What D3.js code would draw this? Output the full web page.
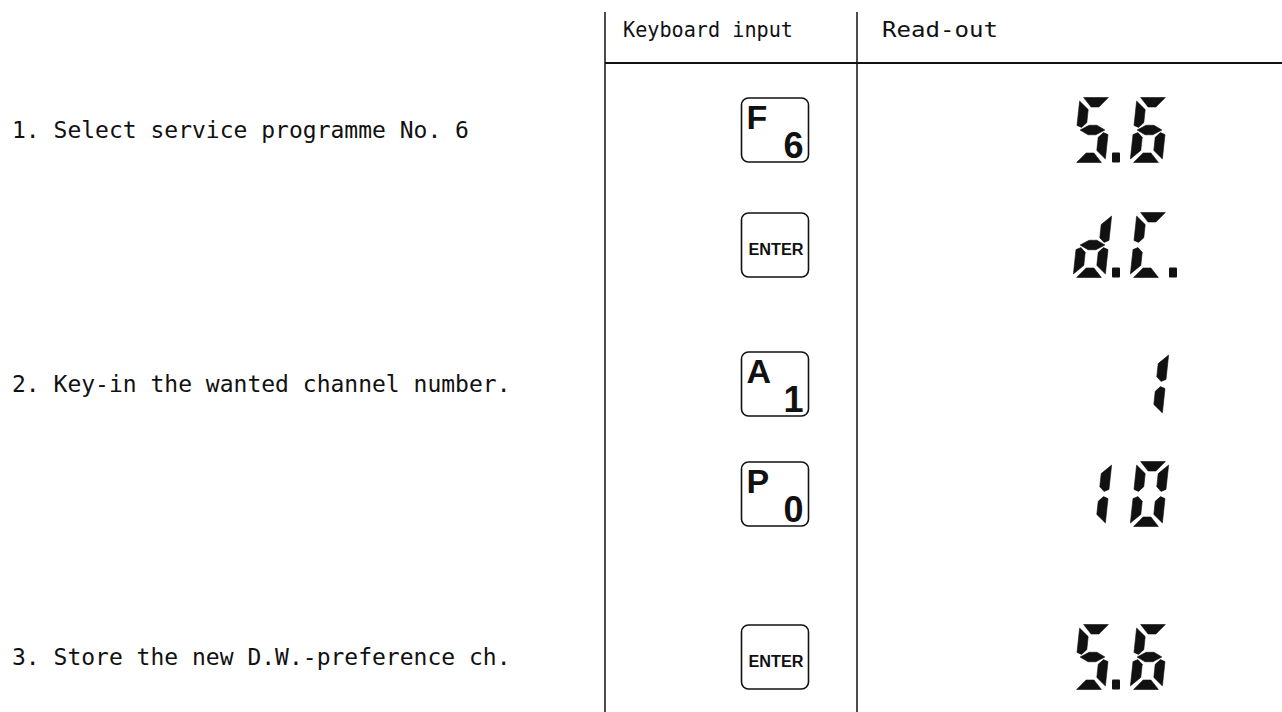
<!DOCTYPE html>
<html>
<head>
<meta charset="utf-8">
<script src="https://cdn.jsdelivr.net/npm/d3@7"></script>
<style>
  html, body { margin: 0; padding: 0; background: #fff; }
  svg { display: block; }
</style>
</head>
<body>
<svg id="chart" width="1282" height="712"></svg>
<script>
// ---- data ----
const headers = ["Keyboard input", "Read-out"];
const steps = ["1. Select service programme No. 6",
               "2. Key-in the wanted channel number.",
               "3. Store the new D.W.-preference ch."];
const stepRows = [0, 2, 4];
const keyLetters = ["F", "", "A", "P", ""];
const keyDigits  = ["6", "", "1", "0", ""];
const keyNames   = ["", "ENTER", "", "", "ENTER"];
const readouts   = ["5.6", "d.C.", " 1", "10", "5.6"];
const rowIds = [0, 1, 2, 3, 4];

// ---- layout ----
const W = 1282, H = 712;
const svg = d3.select("#chart");
const y = d3.scaleOrdinal().domain(rowIds).range([130, 245, 384, 494, 657]);
const x = d3.scaleOrdinal().domain(["label", "key", "read"]).range([12, 775, 1073]);
const lineX = [605, 857];
const ink = "#111";

// table lines
svg.selectAll("line.v").data(lineX).join("line")
  .attr("x1", d => d).attr("x2", d => d).attr("y1", 12).attr("y2", H)
  .attr("stroke", ink).attr("stroke-width", 1.5);
svg.append("line").attr("x1", lineX[0]).attr("x2", W).attr("y1", 63).attr("y2", 63)
  .attr("stroke", ink).attr("stroke-width", 1.8);

// headers
const headerPos = [{x: 623, len: 170}, {x: 882, len: 116}];
svg.selectAll("text.hdr").data(headers).join("text")
  .attr("class", "hdr")
  .attr("x", (d, i) => headerPos[i].x).attr("y", 37)
  .attr("textLength", (d, i) => headerPos[i].len)
  .attr("lengthAdjust", "spacingAndGlyphs")
  .attr("font-family", "DejaVu Sans Mono").attr("font-size", 21)
  .attr("fill", ink).text(d => d);

// step labels
svg.selectAll("text.step").data(steps).join("text")
  .attr("class", "step")
  .attr("x", x("label")).attr("y", (d, i) => y(stepRows[i]) + 8)
  .attr("font-family", "DejaVu Sans Mono").attr("font-size", 23)
  .attr("fill", ink).text(d => d);

// keys
const kw = 67, kh = 64;
const keys = svg.selectAll("g.key").data(rowIds).join("g")
  .attr("class", "key")
  .attr("transform", d => `translate(${x("key") - kw / 2},${y(d) - kh / 2})`);
keys.append("rect").attr("width", kw).attr("height", kh).attr("rx", 7)
  .attr("fill", "none").attr("stroke", ink).attr("stroke-width", 1.6);
keys.append("text").attr("x", 5).attr("y", 31)
  .attr("font-family", "Liberation Sans").attr("font-weight", "bold").attr("font-size", 34)
  .attr("fill", ink).text(d => keyLetters[d]);
keys.append("text").attr("x", kw - 5).attr("y", kh - 4).attr("text-anchor", "end")
  .attr("font-family", "Liberation Sans").attr("font-weight", "bold").attr("font-size", 36)
  .attr("fill", ink).text(d => keyDigits[d]);
keys.append("text").attr("x", kw / 2 + 1).attr("y", kh / 2 + 10).attr("text-anchor", "middle")
  .attr("font-family", "Liberation Sans").attr("font-weight", "bold").attr("font-size", 16)
  .attr("textLength", 55).attr("lengthAdjust", "spacingAndGlyphs")
  .attr("fill", ink).text(d => keyNames[d]);

// seven-segment read-out
const SW = 32, SH = 65, T = 9.5, G = 2.6, slant = 7, pitch = 57;
const M = SH / 2;
const segs = {
  a: [[G + 1, 0], [SW - G - 1, 0], [SW - T - G, T], [T + G, T]],
  b: [[SW, G + 1], [SW, M - G - 2], [SW - T / 2, M - G], [SW - T, M - T / 2 - G], [SW - T, T + G]],
  c: [[SW, M + G + 2], [SW, SH - G - 1], [SW - T, SH - T - G], [SW - T, M + T / 2 + G], [SW - T / 2, M + G]],
  d: [[T + G, SH - T], [SW - T - G, SH - T], [SW - G - 1, SH], [G + 1, SH]],
  e: [[0, M + G + 2], [T / 2, M + G], [T, M + T / 2 + G], [T, SH - T - G], [0, SH - G - 1]],
  f: [[0, G + 1], [T, T + G], [T, M - T / 2 - G], [T / 2, M - G], [0, M - G - 2]],
  g: [[G + 1, M], [T + G, M - T / 2], [SW - T - G, M - T / 2], [SW - G - 1, M],
      [SW - T - G, M + T / 2], [T + G, M + T / 2]]
};
const charSegs = {
  "0": "abcdef", "1": "bc", "5": "afgcd", "6": "afgecd", "d": "bcdeg", "C": "afed", " ": ""
};
function parseReadout(s) {
  const cells = [];
  for (const ch of s) {
    if (ch === "." && cells.length) cells[cells.length - 1].dp = true;
    else cells.push({ch, dp: false});
  }
  return cells;
}
const skew = ([px, py]) => [px + (SH - py) * slant / SH, py];

const reads = svg.selectAll("g.read").data(rowIds).join("g")
  .attr("class", "read")
  .attr("transform", d => `translate(${x("read")},${y(d) - SH / 2})`);
reads.each(function (r) {
  const cells = parseReadout(readouts[r]);
  const g = d3.select(this);
  cells.forEach((c, i) => {
    const cg = g.append("g").attr("transform", `translate(${i * pitch},0)`);
    const list = (charSegs[c.ch] || "").split("");
    cg.selectAll("polygon").data(list).join("polygon")
      .attr("points", s => segs[s].map(skew).map(p => p.join(",")).join(" "))
      .attr("stroke", ink).attr("stroke-width", 0.6).attr("stroke-linejoin", "round")
      .attr("fill", ink);
    if (c.dp) {
      cg.append("rect").attr("x", SW + 7).attr("y", SH - 10).attr("width", 8).attr("height", 10)
        .attr("rx", 1).attr("fill", ink);
    }
  });
});
</script>
</body>
</html>
